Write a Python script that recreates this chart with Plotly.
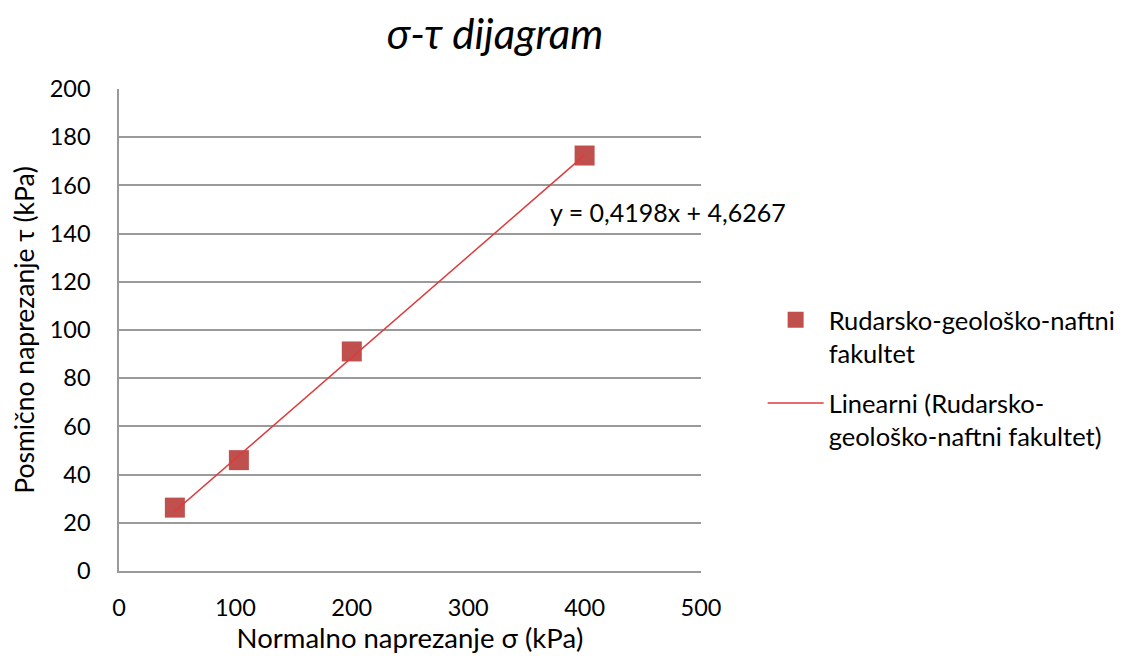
import plotly.graph_objects as go

# data
sigma = [48, 103, 200, 400]          # Normalno naprezanje σ (kPa)
tau = [26.3, 46.0, 91.1, 172.4]      # Posmično naprezanje τ (kPa)
slope = 0.4198
intercept = 4.6267
series_name = "Rudarsko-geološko-naftni<br>fakultet"
trend_name = "Linearni (Rudarsko-<br>geološko-naftni fakultet)"
x_ticks = [0, 100, 200, 300, 400, 500]
y_ticks = [0, 20, 40, 60, 80, 100, 120, 140, 160, 180, 200]

FONT = "Lato"
trend_x = [min(sigma), max(sigma)]
trend_y = [slope * v + intercept for v in trend_x]

fig = go.Figure()
fig.add_trace(go.Scatter(
    x=sigma, y=tau, mode="markers", name=series_name, legendgroup="a",
    marker=dict(symbol="square", size=20, color="#C0504D",
                line=dict(width=0)),
))
fig.add_trace(go.Scatter(
    x=trend_x, y=trend_y, mode="lines", name=trend_name, legendgroup="b",
    line=dict(color="#DC3C3C", width=1.5),
))

fig.add_annotation(
    x=472, y=149, xref="x", yref="y",
    text="y = 0,4198x + 4,6267", showarrow=False,
    xanchor="center", yanchor="middle",
    font=dict(family=FONT, size=25, color="#000000"),
)

fig.update_layout(
    width=1123, height=660,
    margin=dict(l=111, r=429, t=81, b=97),
    paper_bgcolor="white", plot_bgcolor="white",
    font=dict(family=FONT, size=24, color="#000000"),
    title=dict(text="<i>σ-τ dijagram</i>", x=0.4337, xanchor="center",
               y=0.96, yanchor="middle",
               font=dict(family=FONT, size=42, color="#000000")),
    showlegend=True,
    legend=dict(x=1.104, y=0.40, xanchor="left", yanchor="middle",
                valign="top", traceorder="grouped", tracegroupgap=14,
                font=dict(family=FONT, size=25.5, color="#000000"),
                itemwidth=56),
)
fig.update_xaxes(
    range=[0, 500], tickvals=x_ticks, showgrid=False,
    showline=True, linecolor="#9A9A9A", linewidth=1.5,
    ticks="", zeroline=False, ticklabelstandoff=15,
    title=dict(text="Normalno naprezanje σ (kPa)", standoff=8,
               font=dict(family=FONT, size=27.5)),
    tickfont=dict(family=FONT, size=23.5),
)
fig.update_yaxes(
    range=[0, 200], tickvals=y_ticks, showgrid=True,
    gridcolor="#9A9A9A", gridwidth=1.5,
    showline=True, linecolor="#9A9A9A", linewidth=1.5,
    ticks="", zeroline=False, ticklabelstandoff=22,
    title=dict(text="Posmično naprezanje τ (kPa)", standoff=12,
               font=dict(family=FONT, size=26.5)),
    tickfont=dict(family=FONT, size=23.5),
)

fig.write_html("out.html")
